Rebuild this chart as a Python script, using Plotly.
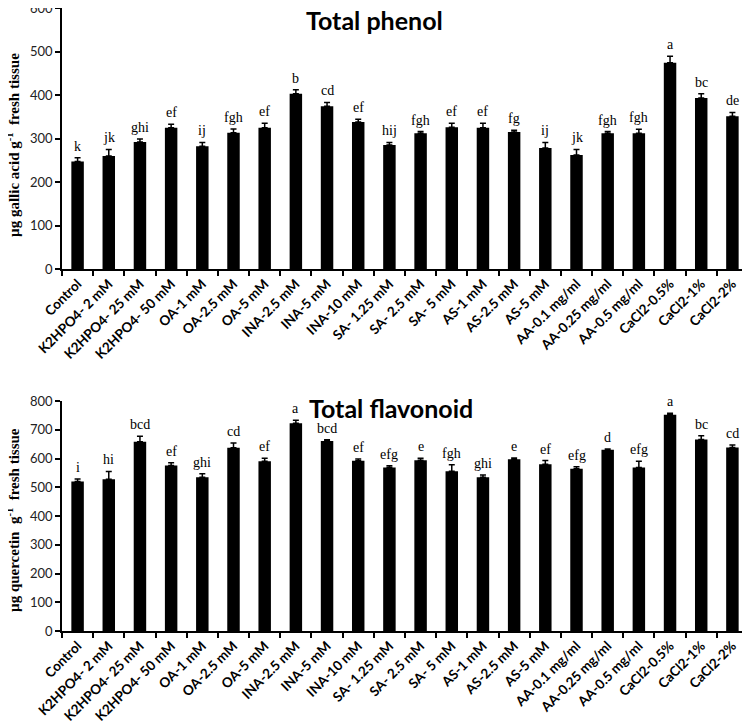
import plotly.graph_objects as go

categories = ["Control", "K2HPO4- 2 mM", "K2HPO4- 25 mM", "K2HPO4- 50 mM", "OA-1 mM", "OA-2.5 mM",
              "OA-5 mM", "INA-2.5 mM", "INA-5 mM", "INA-10 mM", "SA- 1.25 mM", "SA- 2.5 mM",
              "SA- 5 mM", "AS-1 mM", "AS-2.5 mM", "AS-5 mM", "AA-0.1 mg/ml", "AA-0.25 mg/ml",
              "AA-0.5 mg/ml", "CaCl2-0.5%", "CaCl2-1%", "CaCl2-2%"]

phenol = [247, 260, 292, 325, 282, 313, 325, 403, 374, 338, 285, 312, 326, 325, 315, 278, 262, 312, 312, 474, 393, 351]
phenol_err = [9, 15, 7, 8, 9, 9, 10, 9, 9, 6, 6, 4, 9, 10, 4, 13, 13, 4, 9, 15, 10, 9]
phenol_letters = ["k", "jk", "ghi", "ef", "ij", "fgh", "ef", "b", "cd", "ef", "hij", "fgh", "ef", "ef",
                  "fg", "ij", "jk", "fgh", "fgh", "a", "bc", "de"]

flav = [520, 528, 658, 576, 535, 637, 590, 723, 661, 592, 569, 594, 556, 535, 597, 580, 564, 630, 569, 752, 666, 638]
flav_err = [9, 27, 19, 9, 12, 17, 11, 10, 4, 6, 6, 7, 22, 8, 5, 13, 7, 3, 21, 5, 13, 9]
flav_letters = ["i", "hi", "bcd", "ef", "ghi", "cd", "ef", "a", "bcd", "ef", "efg", "e", "fgh", "ghi",
                "e", "ef", "efg", "d", "efg", "a", "bc", "cd"]

# page body has an 8px default margin, so the figure is offset by 8px
OFF = 8
W, H = 750 - OFF, 724 - OFF
def px(x):
    return min(1.0, max(0.0, (x - OFF) / W))
def py(y):
    return min(1.0, max(0.0, 1 - (y - OFF) / H))

fig = go.Figure()
for xa, ya, vals, errs in [("x", "y", phenol, phenol_err), ("x2", "y2", flav, flav_err)]:
    fig.add_trace(go.Bar(
        x=categories, y=vals, xaxis=xa, yaxis=ya, width=0.4,
        marker=dict(color="black", line=dict(width=0)),
        error_y=dict(type="data", array=errs, arrayminus=[0] * len(errs), symmetric=False,
                     color="black", thickness=1.5, width=3),
        showlegend=False))

tickfont = dict(family="Lato", size=13, color="#222")
xfont = dict(family="Lato", size=13.5, color="black", weight="bold")

common_x = dict(type="category", showline=True, linecolor="black", linewidth=1.5, ticks="outside",
                ticklen=5, tickcolor="black", tickwidth=1.5, tickson="boundaries", tickangle=-45,
                tickfont=xfont, showgrid=False, zeroline=False, automargin=False,
                ticklabeloverflow="allow")
common_y = dict(showline=True, linecolor="black", linewidth=1.5, ticks="outside", ticklen=5,
                tickcolor="black", tickwidth=1.5, tickfont=tickfont, showgrid=False, zeroline=False,
                dtick=100, automargin=False, ticklabeloverflow="allow")

fig.update_layout(
    width=W, height=H, margin=dict(l=0, r=0, t=0, b=0),
    plot_bgcolor="white", paper_bgcolor="white",
    xaxis=dict(domain=[px(62), px(748)], anchor="y", **common_x),
    yaxis=dict(domain=[py(269), py(8)], anchor="x", range=[0, 600], **common_y),
    xaxis2=dict(domain=[px(62), px(748)], anchor="y2", **common_x),
    yaxis2=dict(domain=[py(631), py(401)], anchor="x2", range=[0, 800], **common_y),
)

ann = []
letter_font = dict(family="Liberation Serif", size=14, color="black")
for cat, v, e, t in zip(categories, phenol, phenol_err, phenol_letters):
    ann.append(dict(x=cat, y=v + e, xref="x", yref="y", text=t, showarrow=False,
                    xanchor="center", yanchor="bottom", yshift=2, font=letter_font))
for cat, v, e, t in zip(categories, flav, flav_err, flav_letters):
    ann.append(dict(x=cat, y=v + e, xref="x2", yref="y2", text=t, showarrow=False,
                    xanchor="center", yanchor="bottom", yshift=2, font=letter_font))

title_font = dict(family="Lato", size=25, color="black")
ann.append(dict(x=px(374), y=py(20), xref="paper", yref="paper", text="<b>Total phenol</b>",
                xanchor="center", yanchor="middle", showarrow=False, font=title_font))
ann.append(dict(x=px(391), y=py(408), xref="paper", yref="paper", text="<b>Total flavonoid</b>",
                xanchor="center", yanchor="middle", showarrow=False, font=title_font))

yt_font = dict(family="Liberation Serif", size=15, color="black")
ann.append(dict(x=px(13), y=py(145), xref="paper", yref="paper", textangle=-90,
                xanchor="center", yanchor="middle",
                text="<b>µg gallic acid g<sup>-1</sup>  fresh tissue</b>", showarrow=False, font=yt_font))
ann.append(dict(x=px(13), y=py(520), xref="paper", yref="paper", textangle=-90,
                xanchor="center", yanchor="middle",
                text="<b>µg quercetin  g<sup>-1</sup>  fresh tissue</b>", showarrow=False, font=yt_font))

fig.update_layout(annotations=ann)
fig.write_html("out.html")
